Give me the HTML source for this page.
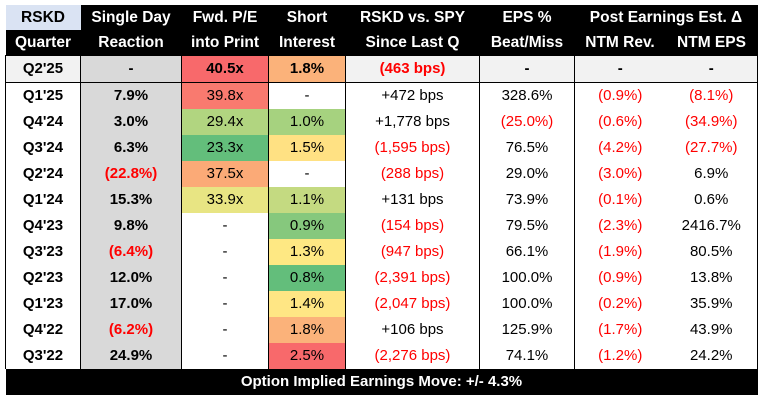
<!DOCTYPE html>
<html><head><meta charset="utf-8"><style>
body{margin:0;background:#fff;width:762px;height:404px;overflow:hidden;font-family:"Liberation Sans",Arial,sans-serif;}
table{position:absolute;left:5px;top:5px;border-collapse:collapse;table-layout:fixed;width:752px;}
td{height:26px;padding:0;text-align:center;font-size:15px;color:#000;white-space:nowrap;line-height:24px;}
.h td{background:#000;color:#fff;font-weight:bold;font-size:15.5px;height:25px;}
.h td.rs{background:#dae3f3;color:#000;}
.cur td{background:#f2f2f2;font-weight:bold;border-top:1px solid #000;border-bottom:1px solid #000;}
td.q{font-weight:bold;}
td.s{background:#d9d9d9;font-weight:bold;}
.r{color:#ff0000;}
.bl{border-left:1px solid #000;}
.br{border-right:1px solid #000;}
.f td{background:#000;color:#fff;font-weight:bold;height:26px;}
</style></head><body>
<table>
<colgroup><col style="width:75px"><col style="width:101px"><col style="width:87px"><col style="width:77px"><col style="width:134px"><col style="width:95px"><col style="width:91px"><col style="width:92px"></colgroup>
<tr class="h"><td class="rs">RSKD</td><td>Single Day</td><td>Fwd. P/E</td><td>Short</td><td>RSKD vs. SPY</td><td>EPS %</td><td colspan="2">Post Earnings Est. Δ</td></tr>
<tr class="h"><td>Quarter</td><td>Reaction</td><td>into Print</td><td>Interest</td><td>Since Last Q</td><td>Beat/Miss</td><td>NTM Rev.</td><td>NTM EPS</td></tr>
<tr class="cur"><td class="br bl">Q2'25</td><td class="br" style="background:#d9d9d9">-</td><td class="br" style="background:#f8696b">40.5x</td><td class="br" style="background:#fbb27a">1.8%</td><td class="br r">(463 bps)</td><td class="br">-</td><td>-</td><td class="br">-</td></tr>
<tr><td class="q bl br">Q1'25</td><td class="s br">7.9%</td><td class="br" style="background:#f97a6f">39.8x</td><td class="br">-</td><td class="br">+472 bps</td><td class="br">328.6%</td><td class="r">(0.9%)</td><td class="r br">(8.1%)</td></tr>
<tr><td class="q bl br">Q4'24</td><td class="s br">3.0%</td><td class="br" style="background:#b1d580">29.4x</td><td class="br" style="background:#a6d27f">1.0%</td><td class="br">+1,778 bps</td><td class="br r">(25.0%)</td><td class="r">(0.6%)</td><td class="r br">(34.9%)</td></tr>
<tr><td class="q bl br">Q3'24</td><td class="s br">6.3%</td><td class="br" style="background:#63be7b">23.3x</td><td class="br" style="background:#ffe183">1.5%</td><td class="br r">(1,595 bps)</td><td class="br">76.5%</td><td class="r">(4.2%)</td><td class="r br">(27.7%)</td></tr>
<tr><td class="q bl br">Q2'24</td><td class="s br r">(22.8%)</td><td class="br" style="background:#fbaa77">37.5x</td><td class="br">-</td><td class="br r">(288 bps)</td><td class="br">29.0%</td><td class="r">(3.0%)</td><td class="br">6.9%</td></tr>
<tr><td class="q bl br">Q1'24</td><td class="s br">15.3%</td><td class="br" style="background:#e8e583">33.9x</td><td class="br" style="background:#c4da81">1.1%</td><td class="br">+131 bps</td><td class="br">73.9%</td><td class="r">(0.1%)</td><td class="br">0.6%</td></tr>
<tr><td class="q bl br">Q4'23</td><td class="s br">9.8%</td><td class="br">-</td><td class="br" style="background:#86c87d">0.9%</td><td class="br r">(154 bps)</td><td class="br">79.5%</td><td class="r">(2.3%)</td><td class="br">2416.7%</td></tr>
<tr><td class="q bl br">Q3'23</td><td class="s br r">(6.4%)</td><td class="br">-</td><td class="br" style="background:#fee883">1.3%</td><td class="br r">(947 bps)</td><td class="br">66.1%</td><td class="r">(1.9%)</td><td class="br">80.5%</td></tr>
<tr><td class="q bl br">Q2'23</td><td class="s br">12.0%</td><td class="br">-</td><td class="br" style="background:#63be7b">0.8%</td><td class="br r">(2,391 bps)</td><td class="br">100.0%</td><td class="r">(0.9%)</td><td class="br">13.8%</td></tr>
<tr><td class="q bl br">Q1'23</td><td class="s br">17.0%</td><td class="br">-</td><td class="br" style="background:#ffe684">1.4%</td><td class="br r">(2,047 bps)</td><td class="br">100.0%</td><td class="r">(0.2%)</td><td class="br">35.9%</td></tr>
<tr><td class="q bl br">Q4'22</td><td class="s br r">(6.2%)</td><td class="br">-</td><td class="br" style="background:#fbb27a">1.8%</td><td class="br">+106 bps</td><td class="br">125.9%</td><td class="r">(1.7%)</td><td class="br">43.9%</td></tr>
<tr><td class="q bl br">Q3'22</td><td class="s br">24.9%</td><td class="br">-</td><td class="br" style="background:#f8696b">2.5%</td><td class="br r">(2,276 bps)</td><td class="br">74.1%</td><td class="r">(1.2%)</td><td class="br">24.2%</td></tr>
<tr class="f"><td colspan="8">Option Implied Earnings Move: +/- 4.3%</td></tr>
</table>
</body></html>
